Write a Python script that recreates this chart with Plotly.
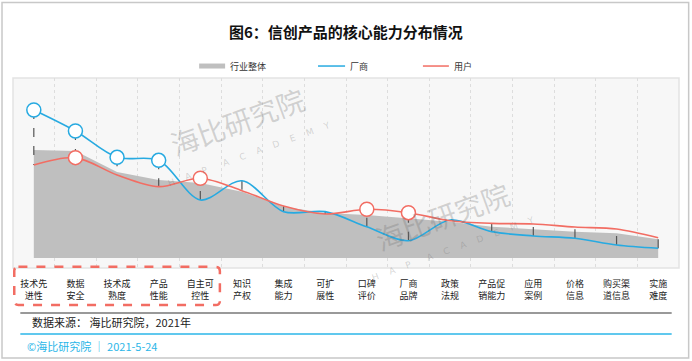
import plotly.graph_objects as go

# ---------------- data ----------------
categories = ["技术先<br>进性", "数据<br>安全", "技术成<br>熟度", "产品<br>性能", "自主可<br>控性",
              "知识<br>产权", "集成<br>能力", "可扩<br>展性", "口碑<br>评价", "厂商<br>品牌",
              "政策<br>法规", "产品促<br>销能力", "应用<br>案例", "价格<br>信息", "购买渠<br>道信息", "实施<br>难度"]
series_names = ["行业整体", "厂商", "用户"]
industry = [73.0, 72.3, 58.1, 52.7, 50.7, 44.8, 34.7, 30.4, 29.1, 27.0, 24.5, 21.1, 19.4, 17.8, 16.7, 12.6]
vendor = [100.0, 85.8, 68.0, 66.0, 39.2, 52.2, 31.3, 31.3, 21.1, 11.7, 25.7, 17.8, 14.9, 13.3, 8.8, 6.6]
user = [62.8, 67.8, 56.1, 48.2, 53.9, 45.5, 35.1, 29.7, 32.9, 30.6, 25.2, 23.4, 23.0, 20.9, 19.6, 13.7]
vendor_marked = [0, 1, 2, 3]
user_marked = [1, 4, 8, 9]
highlight_count = 5

title_text = "图6：信创产品的核心能力分布情况"
source_text = "数据来源： 海比研究院，2021年"
footer_text = "©海比研究院 ｜ 2021-5-24"

GRAY = "#bfbfbf"
BLUE = "#27aae1"
RED = "#f26d63"
FONT = "Noto Sans CJK SC"

x = list(range(len(categories)))

fig = go.Figure()

# industry area
fig.add_trace(go.Scatter(x=x, y=industry, mode="lines", line=dict(width=0, color=GRAY),
                         fill="tozeroy", fillcolor=GRAY, showlegend=False, hoverinfo="skip"))

# high-low dashed lines
hx, hy = [], []
for i in x:
    hx += [i, i, None]
    hy += [vendor[i], user[i], None]
fig.add_trace(go.Scatter(x=hx, y=hy, mode="lines", line=dict(color="#555555", width=1.2, dash="dash"),
                         showlegend=False, hoverinfo="skip"))

# lines
fig.add_trace(go.Scatter(x=x, y=vendor, mode="lines", line=dict(color=BLUE, width=1.6, shape="spline", smoothing=0.9),
                         showlegend=False))
fig.add_trace(go.Scatter(x=x, y=user, mode="lines", line=dict(color=RED, width=1.6, shape="spline", smoothing=0.9),
                         showlegend=False))

# marked points
fig.add_trace(go.Scatter(x=vendor_marked, y=[vendor[i] for i in vendor_marked], mode="markers",
                         marker=dict(size=14, color="white", line=dict(color=BLUE, width=1.5)), showlegend=False))
fig.add_trace(go.Scatter(x=user_marked, y=[user[i] for i in user_marked], mode="markers",
                         marker=dict(size=14, color="white", line=dict(color=RED, width=1.5)), showlegend=False))

n = len(categories)
boundaries = [i - 0.5 for i in range(n + 1)]

fig.update_xaxes(range=[-0.5, n - 0.5], tickvals=x, ticktext=categories, showgrid=False, zeroline=False,
                 showline=False, ticks="", ticklabelstandoff=9, tickfont=dict(family=FONT, size=9, color="#222222"),
                 minor=dict(tickvals=boundaries, showgrid=True, gridcolor="#dddddd", griddash="dot", gridwidth=1),
                 fixedrange=True)
fig.update_yaxes(range=[-6.76, 121.6], showgrid=False, zeroline=False, showticklabels=False, showline=False,
                 fixedrange=True)

shapes = []
# plot area frame
shapes.append(dict(type="rect", xref="paper", yref="paper", x0=0, x1=1, y0=0, y1=1,
                   line=dict(color="#e3e3e3", width=1.5), layer="below"))
# outer border
shapes.append(dict(type="rect", xref="paper", yref="paper", x0=-0.0165, x1=1.0145, y0=-0.474, y1=1.397,
                   line=dict(color="#c8c8c8", width=1.5)))
# dashed highlight box (rounded)
x0, x1 = -0.5 + 0.03, highlight_count - 0.5 - 0.03
y0, y1 = -0.195, 0.006
rx, ry = 0.1, 0.022
path = (f"M {x0+rx},{y1} L {x1-rx},{y1} Q {x1},{y1} {x1},{y1-ry} L {x1},{y0+ry} Q {x1},{y0} {x1-rx},{y0} "
        f"L {x0+rx},{y0} Q {x0},{y0} {x0},{y0+ry} L {x0},{y1-ry} Q {x0},{y1} {x0+rx},{y1} Z")
shapes.append(dict(type="path", xref="x", yref="paper", path=path,
                   line=dict(color=RED, width=2.5, dash="dash")))
# separators
shapes.append(dict(type="line", xref="paper", yref="paper", x0=0.011, x1=0.989, y0=-0.237, y1=-0.237,
                   line=dict(color="#777777", width=1.5)))
shapes.append(dict(type="line", xref="paper", yref="paper", x0=0.011, x1=0.989, y0=-0.347, y1=-0.347,
                   line=dict(color="#2bb6e8", width=1.5)))
# legend swatches
leg_y = 1.063
for (a, b), col, w in [((0.2795, 0.3185), GRAY, 5), ((0.458, 0.4986), BLUE, 1.5), ((0.6155, 0.6545), RED, 1.5)]:
    shapes.append(dict(type="line", xref="paper", yref="paper", x0=a, x1=b, y0=leg_y, y1=leg_y,
                       line=dict(color=col, width=w)))

annotations = []
for xt, name in zip([0.323, 0.503, 0.659], series_names):
    annotations.append(dict(xref="paper", yref="paper", x=xt, y=leg_y, text=name, showarrow=False,
                            xanchor="left", yanchor="middle", font=dict(family=FONT, size=9, color="#333333")))
annotations.append(dict(xref="paper", yref="paper", x=0.5, y=1.245, text=f"<b>{title_text}</b>", showarrow=False,
                        xanchor="center", yanchor="middle", font=dict(family=FONT, size=15, color="#111111")))
annotations.append(dict(xref="paper", yref="paper", x=0.026, y=-0.285, text=source_text, showarrow=False,
                        xanchor="left", yanchor="middle", font=dict(family=FONT, size=11, color="#222222")))
annotations.append(dict(xref="paper", yref="paper", x=0.018, y=-0.411, text=footer_text, showarrow=False,
                        xanchor="left", yanchor="middle", font=dict(family=FONT, size=11, color="#2bb6e8")))
# watermarks
wm = "rgba(110,110,110,0.28)"
for (wx, wy), (hx2, hy2) in [((0.337, 0.775), (0.355, 0.6)), ((0.644, 0.275), (0.66, 0.1))]:
    annotations.append(dict(xref="paper", yref="paper", x=wx, y=wy, text="海比研究院", showarrow=False,
                            xanchor="center", yanchor="middle",
                            textangle=-20, font=dict(family=FONT, size=28, color=wm)))
    annotations.append(dict(xref="paper", yref="paper", x=hx2, y=hy2,
                            text="H    A    P      A    C    A    D    E    M    Y",
                            xanchor="center", yanchor="middle",
                            showarrow=False, textangle=-20, font=dict(family="DejaVu Sans", size=9, color=wm)))

fig.update_layout(width=692, height=361, margin=dict(l=13, r=13, t=78, b=93),
                  plot_bgcolor="#f7f7f7", paper_bgcolor="white", shapes=shapes, annotations=annotations,
                  showlegend=False, font=dict(family=FONT))

fig.write_html("out.html", config={"displayModeBar": False},
               post_script="document.body.style.margin='0';")
